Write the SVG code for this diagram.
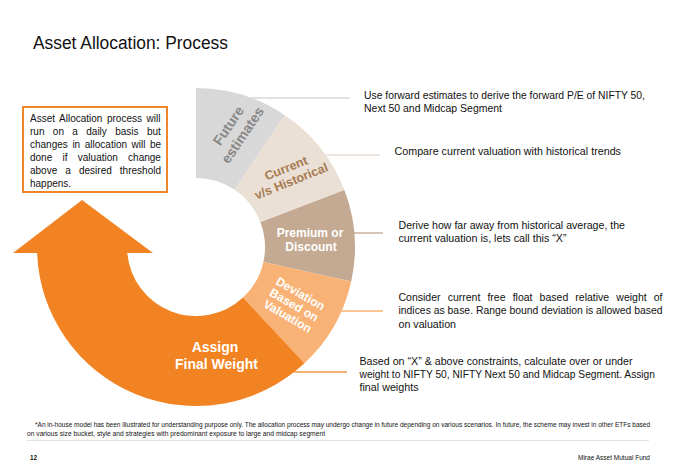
<svg xmlns="http://www.w3.org/2000/svg" width="690" height="476" viewBox="0 0 690 476">
<style>
.t{font-family:"Liberation Sans",Arial,sans-serif;fill:#111;}
.d{font-size:10.5px;}
.b{font-size:10px;}
.seg{font-family:"Liberation Sans",Arial,sans-serif;font-weight:bold;text-anchor:middle;}
.ln{fill:none;stroke-width:1.5;}
</style>
<rect width="690" height="476" fill="#fff"/>
<text class="t" x="33" y="49" font-size="18" textLength="195" lengthAdjust="spacingAndGlyphs" fill="#0c0c1e">Asset Allocation: Process</text>

<g id="connectors">
<line class="ln" x1="251" y1="98" x2="350" y2="98" stroke="#d9d9d9"/>
<line class="ln" x1="252" y1="155" x2="380" y2="155" stroke="#e6ded5"/>
<line class="ln" x1="350" y1="233" x2="383" y2="233" stroke="#c9b29e"/>
<line class="ln" x1="340" y1="311" x2="383" y2="311" stroke="#f8b072"/>
<line class="ln" x1="294" y1="372" x2="347" y2="372" stroke="#f39a4a"/>
</g>

<g id="seg-future">
<path d="M196,88 A159,159 0 0 1 284.9,115.2 L234.6,189.8 A69,69 0 0 0 196,178 Z" fill="#d8d8d8"/>
<g class="seg" font-size="14" fill="#898989" transform="translate(235,130) rotate(-56)">
<text x="0" y="-3">Future</text>
<text x="0" y="14">estimates</text>
</g>
</g>

<g id="seg-current">
<path d="M284.9,115.2 A159,159 0 0 1 344.4,190 L260.4,222.3 A69,69 0 0 0 234.6,189.8 Z" fill="#eae0d5"/>
<g class="seg" font-size="12.5" fill="#a77a50" transform="translate(288,173) rotate(-22)">
<text x="0" y="-1">Current</text>
<text x="0" y="13">v/s Historical</text>
</g>
</g>

<g id="seg-premium">
<path d="M344.4,190 A159,159 0 0 1 351.2,281.4 L263.4,261.9 A69,69 0 0 0 260.4,222.3 Z" fill="#c4a993"/>
<text class="seg" font-size="12" fill="#fff" x="310" y="236.5">Premium or</text>
<text class="seg" font-size="12" fill="#fff" x="311" y="250.5">Discount</text>
</g>

<g id="seg-deviation">
<path d="M351.2,281.4 A159,159 0 0 1 304.4,363.3 L243.1,297.5 A69,69 0 0 0 263.4,261.9 Z" fill="#f9b276"/>
<g class="seg" font-size="12" fill="#fff" transform="translate(294,305) rotate(30)">
<text x="0" y="-9">Deviation</text>
<text x="0" y="4">Based on</text>
<text x="0" y="17">Valuation</text>
</g>
</g>

<g id="seg-assign">
<path d="M304.4,363.3 A159,159 0 0 1 37.1,253 L13,253 L82,200 L153,253 L127.3,253 A69,69 0 0 0 243.1,297.5 Z" fill="#f28322"/>
<text class="seg" font-size="14" fill="#fff" x="215" y="352">Assign</text>
<text class="seg" font-size="14" fill="#fff" x="216.5" y="369">Final Weight</text>
</g>

<g id="note-box">
<rect x="23" y="107" width="144" height="85" fill="#fff" stroke="#f0862a" stroke-width="2"/>
<text class="t b" x="30" y="122" word-spacing="1.8">Asset Allocation process will</text>
<text class="t b" x="30" y="134.9" word-spacing="5.6">run on a daily basis but</text>
<text class="t b" x="30" y="147.8" word-spacing="1.8">changes in allocation will be</text>
<text class="t b" x="30" y="160.7" word-spacing="7.5">done if valuation change</text>
<text class="t b" x="30" y="173.6" word-spacing="5.3">above a desired threshold</text>
<text class="t b" x="30" y="186.5">happens.</text>
</g>

<g id="desc-future">
<text class="t d" x="364" y="98.5" textLength="281" lengthAdjust="spacingAndGlyphs">Use forward estimates to derive the forward P/E of NIFTY 50,</text>
<text class="t d" x="364" y="111.5" textLength="138" lengthAdjust="spacingAndGlyphs">Next 50 and Midcap Segment</text>
</g>
<g id="desc-current">
<text class="t d" x="394.5" y="155" textLength="226.5" lengthAdjust="spacingAndGlyphs">Compare current valuation with historical trends</text>
</g>
<g id="desc-premium">
<text class="t d" x="398.5" y="228.5" textLength="226.5" lengthAdjust="spacingAndGlyphs">Derive how far away from historical average, the</text>
<text class="t d" x="398.5" y="241.5" textLength="168" lengthAdjust="spacingAndGlyphs">current valuation is, lets call this “X”</text>
</g>
<g id="desc-deviation">
<text class="t d" x="398.5" y="301" word-spacing="4.2">Consider current free float based relative weight of</text>
<text class="t d" x="398.5" y="314.3" textLength="264" lengthAdjust="spacingAndGlyphs">indices as base. Range bound deviation is allowed based</text>
<text class="t d" x="398.5" y="327.6" textLength="57.5" lengthAdjust="spacingAndGlyphs">on valuation</text>
</g>
<g id="desc-assign">
<text class="t d" x="359.5" y="364.5" textLength="273" lengthAdjust="spacingAndGlyphs">Based on  “X” &amp; above constraints, calculate over or under</text>
<text class="t d" x="359.5" y="377.5" textLength="295.5" lengthAdjust="spacingAndGlyphs">weight to NIFTY 50, NIFTY Next 50 and Midcap Segment. Assign</text>
<text class="t d" x="359.5" y="390.5" textLength="59" lengthAdjust="spacingAndGlyphs">final weights</text>
</g>

<g id="footer">
<text class="t" font-size="6.5" x="35" y="427" textLength="615" lengthAdjust="spacingAndGlyphs" fill="#222">*An in-house model has been illustrated for understanding purpose only. The allocation process may undergo change in future depending on various scenarios. In future, the scheme may invest in other ETFs based</text>
<text class="t" font-size="6.5" x="27" y="436" textLength="298" lengthAdjust="spacingAndGlyphs" fill="#222">on various size bucket, style and strategies with predominant exposure to large and midcap segment</text>
<line x1="27" y1="440.5" x2="649" y2="440.5" stroke="#e3e3e3" stroke-width="1"/>
<text class="t" font-size="7" font-weight="bold" x="30" y="459.5" textLength="7" lengthAdjust="spacingAndGlyphs">12</text>
<text class="t" font-size="7.5" x="578" y="459.5" textLength="72" lengthAdjust="spacingAndGlyphs">Mirae Asset Mutual Fund</text>
</g>
</svg>
